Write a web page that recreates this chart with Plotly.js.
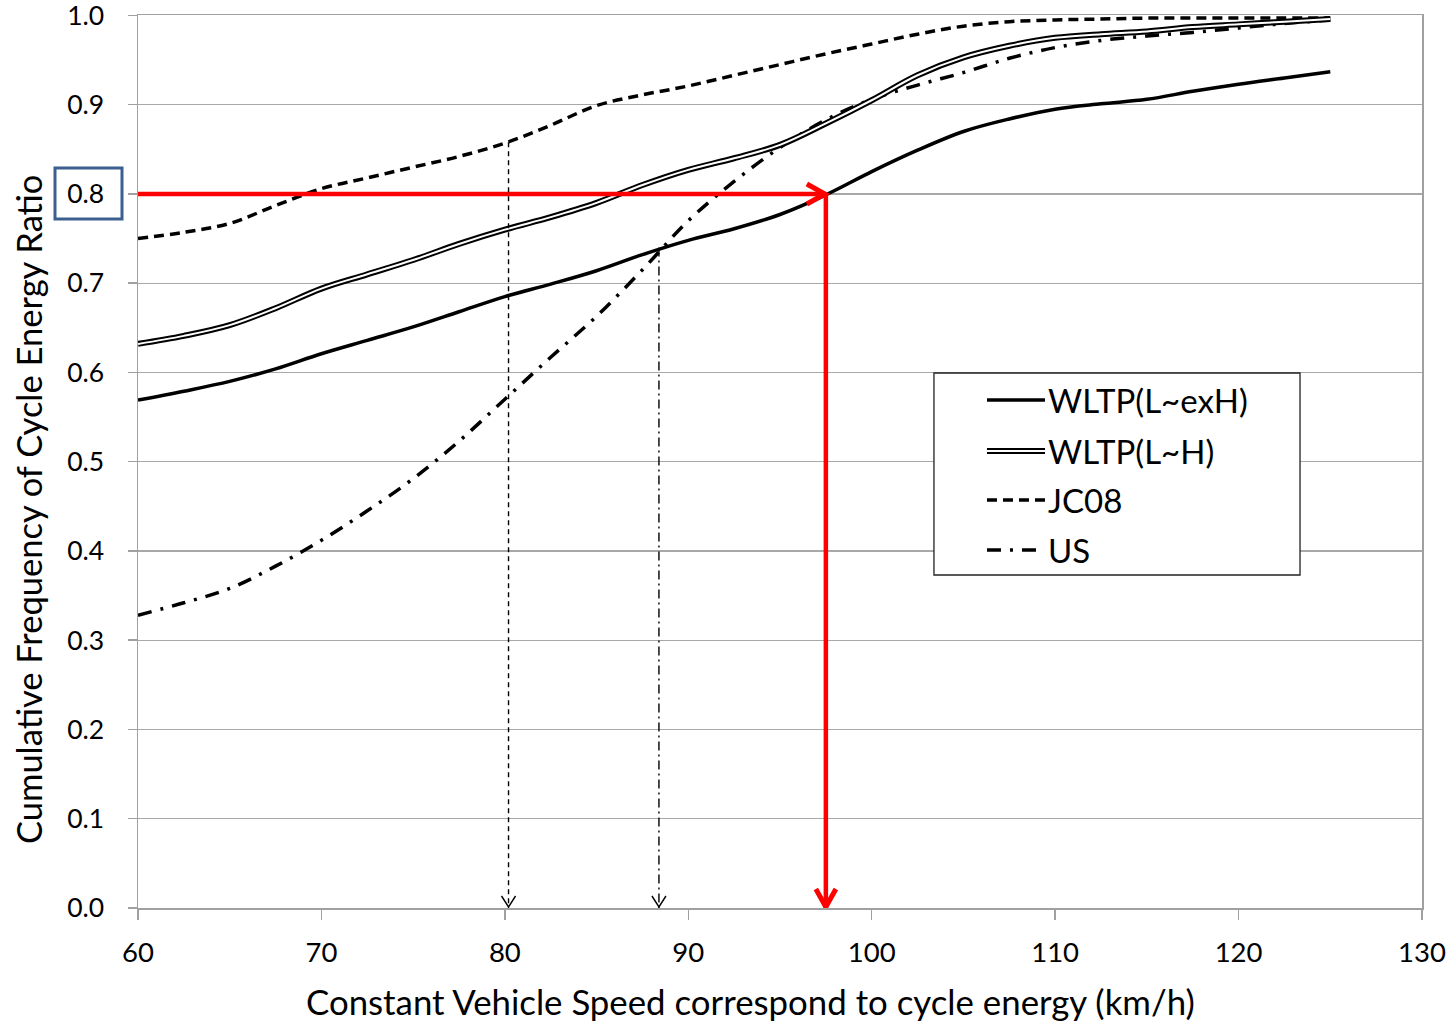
<!DOCTYPE html>
<html>
<head>
<meta charset="utf-8">
<script src="https://cdn.plot.ly/plotly-3.0.1.min.js"></script>
<style>
html,body{margin:0;padding:0;background:#fff;}
#chart{width:1455px;height:1021px;}
</style>
</head>
<body>
<div id="chart"></div>
<script>
// ---- data ----
const speeds = [60,62.5,65,67.5,70,72.5,75,77.5,80,82.5,85,87.5,90,92.5,95,97.5,100,102.5,105,107.5,110,112.5,115,117.5,120,122.5,125];
const wltpLexH = [0.569,0.579,0.590,0.604,0.621,0.636,0.651,0.668,0.685,0.699,0.714,0.732,0.748,0.761,0.777,0.799,0.825,0.849,0.870,0.884,0.895,0.901,0.906,0.915,0.923,0.930,0.937];
const wltpLH   = [0.632,0.641,0.653,0.672,0.694,0.710,0.726,0.744,0.760,0.774,0.790,0.810,0.827,0.840,0.855,0.879,0.905,0.933,0.953,0.966,0.975,0.979,0.982,0.987,0.990,0.993,0.996];
const jc08     = [0.750,0.757,0.767,0.787,0.806,0.818,0.830,0.842,0.857,0.877,0.899,0.911,0.921,0.933,0.945,0.957,0.968,0.979,0.988,0.993,0.995,0.996,0.997,0.997,0.997,0.997,0.997];
const us       = [0.328,0.342,0.358,0.383,0.412,0.445,0.481,0.523,0.570,0.617,0.663,0.715,0.770,0.814,0.852,0.883,0.906,0.922,0.936,0.952,0.964,0.972,0.977,0.981,0.986,0.991,0.995];

const seriesNames = ["WLTP(L~exH)","WLTP(L~H)","JC08","US"];
const targetRatio = 0.8;
const speedAtTarget = {wltp: 97.5, jc08: 80.2, us: 88.4};
const curveAtJc08Speed = 0.858;   // JC08 curve height where the dashed drop line starts
const curveAtUsSpeed = 0.740;     // US curve height where the dash-dot drop line starts

const xTicks = [60,70,80,90,100,110,120,130];
const yTicks = [0,0.1,0.2,0.3,0.4,0.5,0.6,0.7,0.8,0.9,1.0];
const yTickText = yTicks.map(v => v.toFixed(1));

const xTitle = "Constant Vehicle Speed correspond to cycle energy (km/h)";
const yTitle = "Cumulative Frequency of Cycle Energy Ratio";

// ---- traces ----
const FONT = "Lato, 'Liberation Sans', sans-serif";
const traces = [
  {x: speeds, y: us, mode:'lines', name: seriesNames[3], line:{color:'#000', width:3.5, dash:'14px,9px,3px,9px', shape:'spline'}},
  {x: speeds, y: jc08, mode:'lines', name: seriesNames[2], line:{color:'#000', width:3.5, dash:'10px,6px', shape:'spline'}},
  {x: speeds, y: wltpLH, mode:'lines', name: seriesNames[1], line:{color:'#000', width:6, shape:'spline'}},
  {x: speeds, y: wltpLH, mode:'lines', name: seriesNames[1]+' inner', line:{color:'#fff', width:2, shape:'spline'}},
  {x: speeds, y: wltpLexH, mode:'lines', name: seriesNames[0], line:{color:'#000', width:3.5, shape:'spline'}}
];

// ---- shapes: drop lines, arrows, box, legend ----
const RED = '#ff0000';
const shapes = [];
shapes.push({type:'line', xref:'x', yref:'y', x0:60, x1:speedAtTarget.wltp, y0:targetRatio, y1:targetRatio, line:{color:RED, width:4.5}});
shapes.push({type:'line', xref:'x', yref:'y', x0:speedAtTarget.wltp, x1:speedAtTarget.wltp, y0:targetRatio, y1:0, line:{color:RED, width:4.5}});
shapes.push({type:'path', xref:'x', yref:'y', xsizemode:'pixel', ysizemode:'pixel', xanchor:speedAtTarget.wltp, yanchor:targetRatio,
  path:'M -19,10 L -1,0 L -19,-10', line:{color:RED, width:5}});
shapes.push({type:'path', xref:'x', yref:'y', xsizemode:'pixel', ysizemode:'pixel', xanchor:speedAtTarget.wltp, yanchor:0,
  path:'M -10,19 L 0,1 L 10,19', line:{color:RED, width:5}});
shapes.push({type:'line', xref:'x', yref:'y', x0:speedAtTarget.jc08, x1:speedAtTarget.jc08, y0:curveAtJc08Speed, y1:0, line:{color:'#000', width:1.4, dash:'5px,4px'}});
shapes.push({type:'path', xref:'x', yref:'y', xsizemode:'pixel', ysizemode:'pixel', xanchor:speedAtTarget.jc08, yanchor:0,
  path:'M -7,12 L 0,1 L 7,12', line:{color:'#000', width:1.4}});
shapes.push({type:'line', xref:'x', yref:'y', x0:speedAtTarget.us, x1:speedAtTarget.us, y0:curveAtUsSpeed, y1:0, line:{color:'#000', width:1.4, dash:'9px,4px,2px,4px'}});
shapes.push({type:'path', xref:'x', yref:'y', xsizemode:'pixel', ysizemode:'pixel', xanchor:speedAtTarget.us, yanchor:0,
  path:'M -7,12 L 0,1 L 7,12', line:{color:'#000', width:1.4}});
shapes.push({type:'rect', xref:'paper', yref:'y', xsizemode:'pixel', ysizemode:'pixel', xanchor:0, yanchor:targetRatio,
  x0:-83, x1:-16, y0:-25, y1:26, line:{color:'#3c5f8f', width:3}});

// legend (drawn by hand so the double line can be shown)
const lgX0 = 0.6199, lgX1 = 0.905, lgY0 = 0.3729, lgY1 = 0.5991;
shapes.push({type:'rect', xref:'paper', yref:'paper', x0:lgX0, x1:lgX1, y0:lgY0, y1:lgY1, fillcolor:'#fff', line:{color:'#222', width:1.3}});
const rowsY = [0.5689, 0.5118, 0.4569, 0.4009];
const sx0 = 0.6612, sx1 = 0.7064;
const legendStyles = [
  [{color:'#000', width:3.5}],
  [{color:'#000', width:6},{color:'#fff', width:2}],
  [{color:'#000', width:3.5, dash:'10px,6px'}],
  [{color:'#000', width:3.5, dash:'14px,9px,3px,9px'}]
];
legendStyles.forEach((styles, i) => {
  styles.forEach(st => shapes.push({type:'line', xref:'paper', yref:'paper', x0:sx0, x1:sx1, y0:rowsY[i], y1:rowsY[i], line:st}));
});

const annotations = seriesNames.map((n, i) => ({
  xref:'paper', yref:'paper', x:0.7072, y:rowsY[i], xanchor:'left', yanchor:'middle',
  text:n, showarrow:false, font:{family:FONT, size:33, color:'#000'}
}));
annotations.push({xref:'paper', yref:'paper', x:0.4774, y:0, yshift:-93, xanchor:'center', yanchor:'middle',
  text:xTitle, showarrow:false, font:{family:FONT, size:34.8, color:'#000'}});
annotations.push({xref:'paper', yref:'paper', x:0, xshift:-109, y:0.4457, xanchor:'center', yanchor:'middle',
  text:yTitle, textangle:-90, showarrow:false, font:{family:FONT, size:34.5, color:'#000'}});

const layout = {
  width:1455, height:1021,
  margin:{l:138, r:33, t:15, b:113},
  paper_bgcolor:'#fff', plot_bgcolor:'#fff',
  showlegend:false,
  font:{family:FONT, color:'#000'},
  xaxis:{range:[60,130], tickvals:xTicks, ticktext:xTicks.map(String), showgrid:false, zeroline:false,
    showline:true, linecolor:'#a0a0a0', linewidth:1.5, mirror:true,
    ticks:'outside', ticklen:10, tickcolor:'#a0a0a0', tickwidth:1.5, ticklabelstandoff:9,
    ticklabeloverflow:'allow',
    tickfont:{family:FONT, size:27.5, color:'#000'}},
  yaxis:{range:[0,1.0005], tickvals:yTicks, ticktext:yTickText, showgrid:true, gridcolor:'#a8a8a8', gridwidth:1.3, zeroline:false,
    showline:true, linecolor:'#a0a0a0', linewidth:1.5, mirror:true,
    ticks:'outside', ticklen:9, tickcolor:'#a0a0a0', tickwidth:1.5, ticklabelstandoff:18,
    ticklabeloverflow:'allow',
    tickfont:{family:FONT, size:26.5, color:'#000'}},
  shapes: shapes,
  annotations: annotations
};

Plotly.newPlot('chart', traces, layout, {displayModeBar:false, staticPlot:true});
</script>
</body>
</html>
